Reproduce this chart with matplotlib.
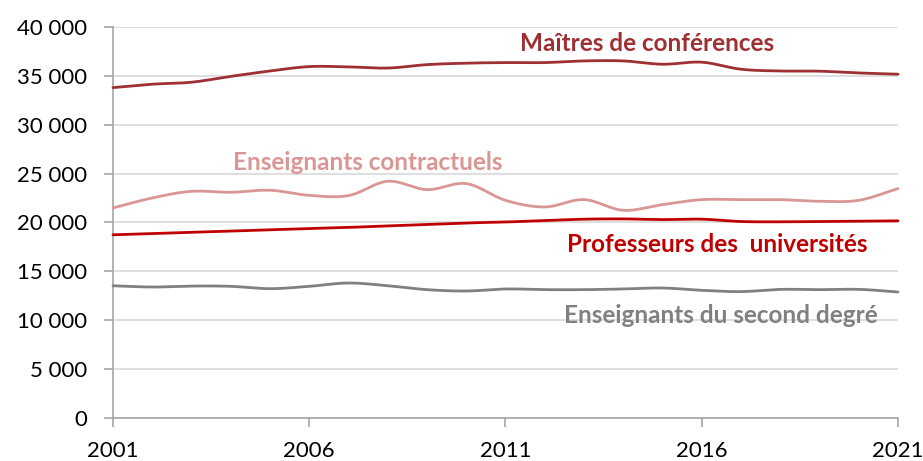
import numpy as np
import matplotlib
matplotlib.use("Agg")
import matplotlib.pyplot as plt

plt.rcParams['font.family'] = ['Lato', 'DejaVu Sans']

years = list(range(2001, 2022))
maitres = [33800, 34150, 34350, 34950, 35500, 35950, 35920, 35800, 36150, 36300, 36360,
           36360, 36530, 36530, 36190, 36400, 35680, 35500, 35480, 35300, 35170]
contractuels = [21490, 22510, 23190, 23090, 23300, 22780, 22750, 24220, 23360, 23980, 22270,
                21590, 22340, 21250, 21830, 22340, 22340, 22340, 22170, 22270, 23470]
professeurs = [18740, 18870, 19000, 19130, 19260, 19390, 19500, 19650, 19800, 19950, 20050,
               20200, 20340, 20370, 20300, 20340, 20100, 20070, 20100, 20140, 20170]
second_degre = [13530, 13400, 13500, 13470, 13230, 13470, 13810, 13530, 13130, 12990, 13200,
                13130, 13130, 13200, 13300, 13060, 12930, 13160, 13130, 13160, 12890]

series_names = ["Maîtres de conférences", "Enseignants contractuels",
                "Professeurs des  universités", "Enseignants du second degré"]
colors = ["#9E3034", "#DA9694", "#C00000", "#808080"]


def smooth(x, y, n=20):
    # Catmull-Rom, close to the Excel "smoothed line" look
    x = np.asarray(x, float)
    y = np.asarray(y, float)
    px = np.concatenate([[2 * x[0] - x[1]], x, [2 * x[-1] - x[-2]]])
    py = np.concatenate([[2 * y[0] - y[1]], y, [2 * y[-1] - y[-2]]])
    t = np.linspace(0, 1, n, endpoint=False)
    xs, ys = [], []
    for i in range(1, len(px) - 2):
        for p, out in ((px, xs), (py, ys)):
            p0, p1, p2, p3 = p[i - 1], p[i], p[i + 1], p[i + 2]
            out.extend(0.5 * (2 * p1 + (-p0 + p2) * t + (2 * p0 - 5 * p1 + 4 * p2 - p3) * t ** 2
                              + (-p0 + 3 * p1 - 3 * p2 + p3) * t ** 3))
    xs.append(x[-1])
    ys.append(y[-1])
    return np.array(xs), np.array(ys)


fig = plt.figure(figsize=(9.23, 4.61), dpi=100)
ax = fig.add_axes([113 / 923, 43 / 461, 785 / 923, 391 / 461])

for vals, col in zip([maitres, contractuels, professeurs, second_degre], colors):
    sx, sy = smooth(years, vals)
    ax.plot(sx, sy, color=col, lw=2.0, solid_capstyle='round', zorder=3, clip_on=False)

# labels placed on the chart like in the original
label_pos = [(2014.6, 38350), (2007.5, 26150), (2016.4, 17700), (2016.5, 10450)]
for name, col, (lx, ly) in zip(series_names, colors, label_pos):
    ax.text(lx, ly, name, color=col, fontsize=17.5, fontweight='bold', ha='center', va='center')

ax.set_xlim(2001, 2021)
ax.set_ylim(0, 40000)
ax.set_xticks([2001, 2006, 2011, 2016, 2021])
ax.set_yticks(range(0, 40001, 5000))
ax.set_yticklabels([f"{v:,}".replace(",", " ") for v in range(0, 40001, 5000)])
ax.grid(axis='y', color='#D9D9D9', lw=1.2, zorder=0)
ax.set_axisbelow(True)
for s in ['top', 'right']:
    ax.spines[s].set_visible(False)
for s in ['left', 'bottom']:
    ax.spines[s].set_color('#A6A6A6')
    ax.spines[s].set_linewidth(1.2)
ax.tick_params(axis='both', colors='#A6A6A6', length=6.5, width=1.2, labelsize=16,
               labelcolor='black')
ax.tick_params(axis='y', pad=12)
ax.tick_params(axis='x', pad=10)

fig.savefig("out.png", dpi=100)
